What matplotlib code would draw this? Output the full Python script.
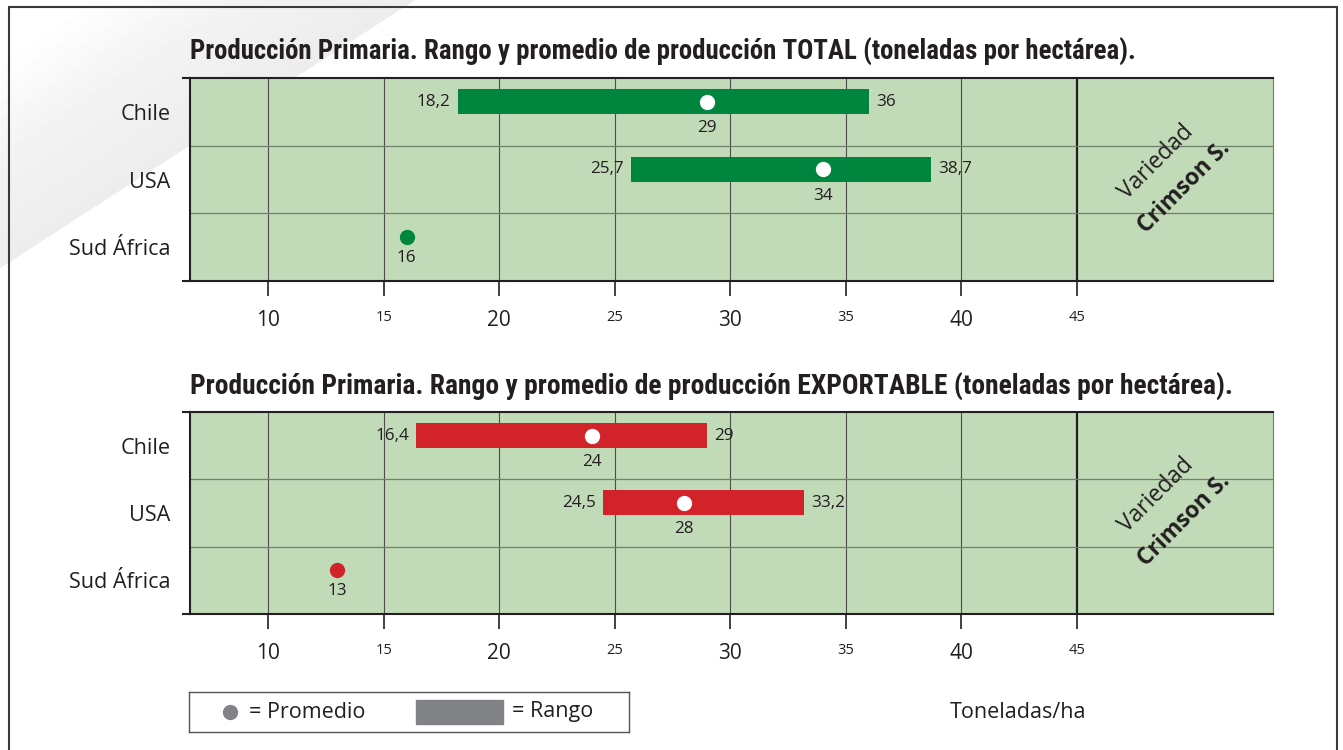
import numpy as np
import matplotlib.pyplot as plt
from matplotlib.patches import Polygon, Rectangle

plt.rcParams['font.family'] = ['Open Sans', 'DejaVu Sans']

# data
countries = ['Chile', 'USA', 'Sud África']
total_min = [18.2, 25.7, np.nan]
total_max = [36, 38.7, np.nan]
total_mean = [29, 34, 16]
export_min = [16.4, 24.5, np.nan]
export_max = [29, 33.2, np.nan]
export_mean = [24, 28, 13]
xticks = [10, 15, 20, 25, 30, 35, 40, 45]

title_total = 'Producción Primaria. Rango y promedio de producción TOTAL (toneladas por hectárea).'
title_export = 'Producción Primaria. Rango y promedio de producción EXPORTABLE (toneladas por hectárea).'

GREEN_BG = '#c1dab8'
GREEN = '#00853f'
RED = '#d2232a'
GREY = '#808285'
TXT = '#231f20'

W, H = 1343, 750


def fx(px):
    return px / W


def fy(py):
    return 1 - py / H


def fmt(v):
    return f'{v:g}'.replace('.', ',')


def draw_panel(ax, mins, maxs, means, color, title, title_size):
    ax.set_facecolor(GREEN_BG)
    ax.set_xlim(6.62, 53.48)
    ax.set_ylim(0, 3)
    rows = np.array([2.5, 1.5, 0.5])
    ymark = rows + 0.15

    for v in xticks[:-1]:
        ax.axvline(v, color='#4d4d4d', lw=0.8, zorder=1)
    ax.axvline(45, color='#231f20', lw=1.6, zorder=1)
    for h in [1, 2]:
        ax.axhline(h, color='#6f806c', lw=0.9, zorder=1)

    for i in range(len(countries)):
        lo, hi, m = mins[i], maxs[i], means[i]
        if np.isnan(lo):
            ax.plot(m, ymark[i], 'o', ms=11, color=color, mec='none', zorder=4)
            ax.annotate(fmt(m), (m, ymark[i]), xytext=(0, -15), textcoords='offset points',
                        ha='center', va='center', fontsize=12.3, color=TXT)
            continue
        ax.barh(ymark[i], hi - lo, left=lo, height=0.37, color=color, zorder=3)
        ax.plot(m, ymark[i], 'o', ms=11, color='white', mec='none', zorder=4)
        ax.annotate(fmt(lo), (lo, ymark[i]), xytext=(-5, 0), textcoords='offset points',
                    ha='right', va='center', fontsize=12.3, color=TXT)
        ax.annotate(fmt(hi), (hi, ymark[i]), xytext=(5, 0), textcoords='offset points',
                    ha='left', va='center', fontsize=12.3, color=TXT)
        ax.annotate(fmt(m), (m, ymark[i]), xytext=(0, -19), textcoords='offset points',
                    ha='center', va='center', fontsize=12.3, color=TXT)

    # axis ticks
    ax.set_xticks(xticks)
    ax.set_xticklabels([str(t) for t in xticks])
    for k, lab in enumerate(ax.get_xticklabels()):
        lab.set_fontsize(15 if k % 2 == 0 else 10.5)
        lab.set_color(TXT)
    ax.tick_params(axis='x', length=11, width=1.3, color='#333333', pad=10)
    ax.set_yticks([0, 3])
    ax.set_yticklabels([])
    ax.tick_params(axis='y', which='major', length=6, width=1.5, color='#231f20')
    ax.set_yticks(rows, minor=True)
    ax.set_yticklabels(countries, minor=True, fontsize=15.6, color=TXT)
    ax.tick_params(axis='y', which='minor', length=0, pad=14)

    for s in ['top', 'left', 'bottom']:
        ax.spines[s].set_color('#231f20')
        ax.spines[s].set_linewidth(1.5)
    ax.spines['right'].set_color('#777777')
    ax.spines['right'].set_linewidth(0.8)

    ax.annotate(title, (0, 1), xycoords='axes fraction', xytext=(0, 19),
                textcoords='offset points', ha='left', va='center',
                fontsize=title_size, fontweight='bold', color=TXT,
                family=['Liberation Sans Narrow', 'Roboto Condensed', 'DejaVu Sans'],
                fontstretch='condensed')

    ax.text(48.42, 1.76, 'Variedad', rotation=45, ha='center', va='center',
            fontsize=16.5, color=TXT)
    ax.text(49.63, 1.39, 'Crimson S.', rotation=45, ha='center', va='center',
            fontsize=16.5, fontweight='bold', color=TXT)


fig = plt.figure(figsize=(W / 100, H / 100), dpi=100)

# faint background swoosh
for d in np.linspace(12, 200, 12):
    pts = [(0, 268), (415, 0), (415 - d * 1.6, 0), (0, 268 - d)]
    fig.add_artist(Polygon([(fx(x), fy(y)) for x, y in pts], closed=True,
                           facecolor='#d0d0d0', edgecolor='none', alpha=0.028,
                           transform=fig.transFigure, zorder=0))

# outer frame
fig.add_artist(Rectangle((fx(9), -0.05), fx(1337) - fx(9), fy(7) + 0.05,
                         fill=False, edgecolor='#3a3a3a', lw=1.5,
                         transform=fig.transFigure, zorder=1))

ax1 = fig.add_axes([fx(190), fy(281), fx(1273) - fx(190), (281 - 78) / H])
ax2 = fig.add_axes([fx(190), fy(614), fx(1273) - fx(190), (614 - 412) / H])

draw_panel(ax1, total_min, total_max, total_mean, GREEN, title_total, 19.4)
draw_panel(ax2, export_min, export_max, export_mean, RED, title_export, 19.8)

# legend box
axl = fig.add_axes([fx(189), fy(732), fx(629) - fx(189), (732 - 692) / H])
axl.set_xlim(0, 440)
axl.set_ylim(0, 40)
axl.set_xticks([])
axl.set_yticks([])
for s in axl.spines.values():
    s.set_color('#555555')
    s.set_linewidth(1)
axl.plot(41, 20, 'o', ms=11, color=GREY, mec='none')
axl.text(60, 20, '= Promedio', ha='left', va='center', fontsize=15.5, color=TXT)
axl.add_patch(Rectangle((227, 8), 87, 24, color=GREY))
axl.text(323, 20, '= Rango', ha='left', va='center', fontsize=15.5, color=TXT)

fig.text(fx(950), fy(712), 'Toneladas/ha', ha='left', va='center', fontsize=15.5, color=TXT)

fig.savefig('out.png', dpi=100)
